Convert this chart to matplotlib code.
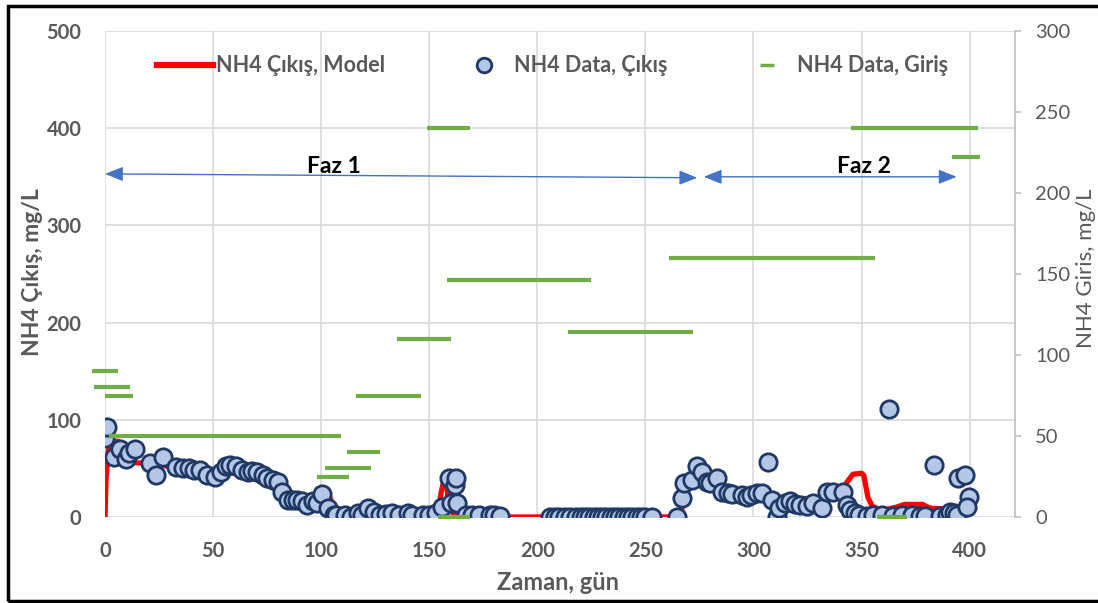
import matplotlib
matplotlib.use("Agg")
import matplotlib.pyplot as plt
from matplotlib.lines import Line2D
from matplotlib.patches import Rectangle

plt.rcParams['font.family'] = ['Lato', 'DejaVu Sans']

# NH4 çıkış verisi (gün, mg/L)
data_gun = [0, 1, 4, 7, 9.5, 11, 14, 21, 23.5, 27, 33, 36, 39, 41, 44, 47, 51, 53.5, 56, 58,
            60.5, 63.5, 66, 68, 70.5, 73, 75, 77.5, 80, 82, 84.5, 87, 89, 91, 93.5, 96, 98,
            100.5, 103, 106, 107, 111, 114, 117, 119, 121.5, 124.5, 127, 130, 133, 136, 140,
            142, 147, 150, 153, 156, 159, 161.7, 162.5, 160, 163, 167, 170, 173, 178, 180, 182.6,
            206, 208, 210, 213, 215, 218, 220, 222, 224, 226, 228, 230, 232, 234, 236, 238,
            240, 242, 244, 246, 248, 250, 253,
            264.6, 267, 268, 271.5, 274, 276, 278.5, 280, 283, 285.5, 288, 290, 294.6, 297,
            299, 301.6, 304, 306.8, 308.6, 311, 312, 314.6, 317, 319, 321.6, 324.8, 327.6,
            331.8, 334, 337, 341.5, 343.3, 344.8, 347, 349, 352.6, 355.5, 359.6, 362.8, 364.7,
            368.8, 373.5, 377, 379.5, 383.7, 386.5, 389.6, 391, 392.6, 394, 394.8, 398, 399.5, 399]
data_cikis = [81, 93, 62, 70, 60, 66, 70, 56, 43, 62, 51, 50, 50, 48, 48, 43, 41, 46, 52, 53,
              52, 48, 46, 47, 46, 43, 40, 38, 36, 26, 17, 18, 18, 16, 12, 16, 14,
              24, 9, 2, 2, 2, 0, 4, 2, 9, 5, 2, 3, 4, 2, 4,
              2, 2, 2, 4, 10, 40, 33, 40, 14, 14, 2, 2, 2, 2, 2, 1,
              0, 0, 0, 0, 0, 0, 0, 0, 0, 0, 0, 0, 0, 0, 0, 0,
              0, 0, 0, 0, 0, 0, 0,
              0, 20, 35, 38, 52, 46, 36, 35, 40, 26, 25, 24, 23, 21,
              23, 25, 25, 57, 17, 0, 9, 14, 16, 13, 12, 11, 14,
              9, 26, 26, 26, 12, 7, 4, 2, 1, 2, 2, 111, 1,
              2, 2, 1, 1, 53, 1, 2, 5, 4, 2, 40, 43, 21, 10]

# model çıktısı
model_gun = [0, 0.5, 1.5, 3, 6, 8, 10, 13, 20, 30, 40, 50, 60, 70, 80, 85, 90, 95, 100, 104,
             105, 107, 110, 150, 154, 155.5, 157, 158, 159, 161, 165, 185, 266, 267, 268, 272,
             275, 278, 285, 295, 305, 312, 320, 330, 340, 343, 346, 350, 351, 353, 355, 358,
             362, 366, 370, 378, 382, 390, 400]
model_cikis = [0, 40, 68, 77, 78, 72, 60, 56, 55, 52, 50, 47, 45, 40, 33, 27, 20, 16, 18, 20,
               15, 3, 2, 1, 2, 25, 40, 38, 10, 4, 1, 0, 0, 10, 22, 45,
               48, 40, 28, 23, 21, 19, 19, 19, 19, 35, 44, 45, 43, 20, 11, 8,
               8, 10, 13, 13, 9, 8, 8]

# NH4 giriş (sağ eksen): başlangıç, bitiş, değer
giris_bas = [-6, -5, 0, 2, 112, 102, 98, 116, 135, 149, 158, 214, 261, 345, 392, 154, 357]
giris_bit = [6, 11.6, 13, 109, 127, 123, 113, 146, 160, 169, 225, 272, 356, 404, 405, 169, 371]
giris_deger = [90, 80, 75, 50, 40, 30, 25, 75, 110, 240, 146, 114, 160, 240, 222, 0, 0]

gri = '#595959'
W, H = 1098, 603
fig = plt.figure(figsize=(W / 100, H / 100), dpi=100)
ax = fig.add_axes([105 / W, 1 - 517 / H, (1015 - 105) / W, (517 - 31) / H])
ax2 = ax.twinx()

ax.plot(model_gun, model_cikis, color='#FF0000', lw=3.8, zorder=3, solid_joinstyle='round')
ax.plot(data_gun, data_cikis, ls='none', marker='o', ms=12.5, mfc='#B4C7E7', mec='#203864',
        mew=2, zorder=4)
ax2.hlines(giris_deger, giris_bas, giris_bit, color='#70AD47', lw=3, clip_on=False)

ax.set_xlim(0, 421)
ax.set_ylim(0, 500)
ax2.set_ylim(0, 300)
ax.set_xticks(range(0, 401, 50))
ax.set_yticks(range(0, 501, 100))
ax2.set_yticks(range(0, 301, 50))
ax.grid(True, color='#D9D9D9', lw=1.2)
ax.set_axisbelow(True)
for a in (ax, ax2):
    for s in a.spines.values():
        s.set_visible(False)
ax2.spines['right'].set_visible(True)
ax2.spines['right'].set_color('#BFBFBF')
ax2.spines['right'].set_linewidth(1.2)

ax.tick_params(axis='both', length=0, labelsize=14.5, labelcolor=gri)
ax.tick_params(axis='y', pad=17)
ax.tick_params(axis='x', pad=17)
for t in ax.get_xticklabels() + ax.get_yticklabels():
    t.set_fontweight('bold')
ax2.tick_params(axis='y', length=4.5, width=1.2, color='#BFBFBF', labelsize=14.5,
                labelcolor=gri, pad=10)

# faz okları
ok = dict(arrowstyle='<|-|>,head_length=0.55,head_width=0.22', color='#4472C4', lw=1,
          shrinkA=0, shrinkB=0, mutation_scale=20)
ax.annotate('', xy=(274, 349), xytext=(0, 353), arrowprops=ok, annotation_clip=False)
ax.annotate('', xy=(394, 350), xytext=(277, 350), arrowprops=ok)
ax.text(106, 361, 'Faz 1', ha='center', va='center', fontsize=16.5, fontweight='bold', color='black')
ax.text(351, 361, 'Faz 2', ha='center', va='center', fontsize=16.5, fontweight='bold', color='black')

handles = [Line2D([], [], color='#FF0000', lw=4.5),
           Line2D([], [], ls='none', marker='o', ms=10.5, mfc='#B4C7E7', mec='#203864', mew=2),
           Line2D([], [], ls='none', marker='_', ms=9.5, mew=2.5, color='#70AD47')]
etiket = ['NH4 Çıkış, Model', 'NH4 Data, Çıkış', 'NH4 Data, Giriş']
leg = ax2.legend(handles, etiket, loc='center left', bbox_to_anchor=((157 - 105) / 910, (517 - 66) / 486),
                 ncol=3, frameon=False, handlelength=2.6, handletextpad=0.12, columnspacing=3.3,
                 borderpad=0, borderaxespad=0, prop={'weight': 'bold', 'size': 15.5})
for t in leg.get_texts():
    t.set_color(gri)

fig.text(33 / W, 1 - 272 / H, 'NH4 Çıkış, mg/L', rotation=90, ha='center', va='center',
         fontsize=16.5, fontweight='bold', color=gri)
fig.text(1086 / W, 1 - 268 / H, 'NH4 Giris, mg/L', rotation=90, ha='center', va='center',
         fontsize=16, color=gri)
fig.text(558 / W, 1 - 583 / H, 'Zaman, gün', ha='center', va='center',
         fontsize=17, fontweight='bold', color=gri)

fig.patches.append(Rectangle((8 / W, 2 / H), 1.2, 1 - 8 / H, transform=fig.transFigure,
                             fill=False, ec='black', lw=2.5, clip_on=False))

fig.savefig('out.png', dpi=100)
